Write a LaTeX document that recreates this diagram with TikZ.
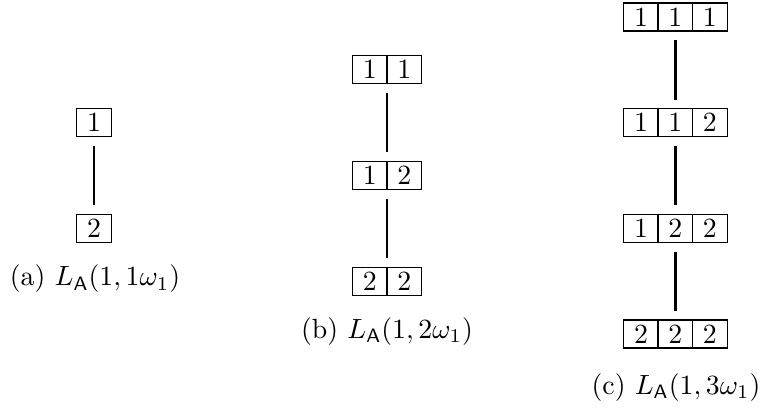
\documentclass[tikz,border=0pt]{standalone}
\usetikzlibrary{calc}
\newcommand{\cellw}{12.4pt}
\newcommand{\tabrow}[1]{\makebox[\cellw]{#1}}
\begin{document}
\begin{tikzpicture}[x=0.36pt,y=-0.36pt,
  rowbox/.style={draw, line width=0.4pt, minimum width=#1*\cellw, minimum height=10.1pt,
    inner sep=0pt, anchor=center},
  divider/.style={line width=0.4pt},
  link/.style={line width=0.85pt, shorten <=3.1pt, shorten >=3.1pt},
  captext/.style={inner sep=0pt, anchor=center}]
\useasboundingbox (0,0) rectangle (765,410);
% (a)
\node[rowbox=1] (a1) at (94,122.7) {\tabrow{1}};
\node[rowbox=1] (a2) at (94,228.3) {\tabrow{2}};
\draw[link] (a1) -- (a2);
\node[captext] (ca) at (95,279) {(a) $L_{\mathsf{A}}(1,1\omega_1)$};
% (b)
\node[rowbox=2] (b1) at (387,69.7) {\tabrow{1}\tabrow{1}};
\node[rowbox=2] (b2) at (387,175.5) {\tabrow{1}\tabrow{2}};
\node[rowbox=2] (b3) at (387,281.3) {\tabrow{2}\tabrow{2}};
\foreach \r in {b1,b2,b3}
  \draw[divider] (\r.north) -- (\r.south);
\draw[link] (b1) -- (b2);
\draw[link] (b2) -- (b3);
\node[captext] (cb) at (387,331.5) {(b) $L_{\mathsf{A}}(1,2\omega_1)$};
% (c)
\node[rowbox=3] (c1) at (675.4,17) {\tabrow{1}\tabrow{1}\tabrow{1}};
\node[rowbox=3] (c2) at (675.4,122.7) {\tabrow{1}\tabrow{1}\tabrow{2}};
\node[rowbox=3] (c3) at (675.4,228.3) {\tabrow{1}\tabrow{2}\tabrow{2}};
\node[rowbox=3] (c4) at (675.4,334) {\tabrow{2}\tabrow{2}\tabrow{2}};
\foreach \r in {c1,c2,c3,c4} {
  \draw[divider] ($(\r.north west)!1/3!(\r.north east)$) -- ($(\r.south west)!1/3!(\r.south east)$);
  \draw[divider] ($(\r.north west)!2/3!(\r.north east)$) -- ($(\r.south west)!2/3!(\r.south east)$);
}
\draw[link] (c1) -- (c2);
\draw[link] (c2) -- (c3);
\draw[link] (c3) -- (c4);
\node[captext] (cc) at (676,387.5) {(c) $L_{\mathsf{A}}(1,3\omega_1)$};
\end{tikzpicture}
\end{document}
